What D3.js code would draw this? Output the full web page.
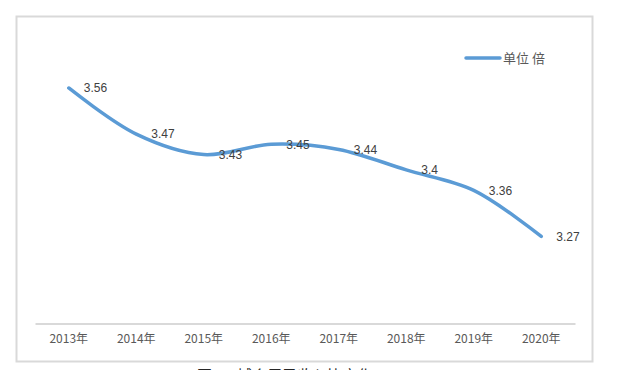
<!DOCTYPE html>
<html>
<head>
<meta charset="utf-8">
<script src="https://cdn.jsdelivr.net/npm/d3@7"></script>
<style>
  body { margin: 0; background: #fff; }
  text { font-family: "Noto Sans CJK SC", "Liberation Sans", sans-serif; }
</style>
</head>
<body>
<div class="chart"></div>
<script>
const years = ["2013年", "2014年", "2015年", "2016年", "2017年", "2018年", "2019年", "2020年"];
const ratio = [3.56, 3.47, 3.43, 3.45, 3.44, 3.4, 3.36, 3.27];
const seriesName = "单位 倍";

const width = 622;
const height = 370;
const svg = d3.select(".chart")
    .append("svg")
    .attr("width", width)
    .attr("height", height);

// chart frame
svg.append("rect")
    .attr("x", 16.5)
    .attr("y", 16.5)
    .attr("width", 576)
    .attr("height", 345)
    .attr("fill", "none")
    .attr("stroke", "#d9d9d9")
    .attr("stroke-width", 2);

const x = d3.scaleBand()
    .domain(years)
    .range([35, 575]);

const y = d3.scaleLinear()
    .domain([3.1, 3.6])
    .range([323.5, 67.5]);

const data = years.map((d, i) => ({year: d, value: ratio[i]}));

// category axis
const axis = svg.append("g")
    .attr("transform", "translate(0,323.5)")
    .call(d3.axisBottom(x).tickSize(0).tickPadding(11));
axis.select(".domain")
    .attr("stroke", "#d9d9d9")
    .attr("stroke-width", 2);
axis.selectAll("text")
    .attr("fill", "#595959")
    .style("font-size", "12px")
    .style("font-family", "'Noto Sans CJK SC', sans-serif");

const line = d3.line()
    .x(d => x(d.year) + x.bandwidth() / 2)
    .y(d => y(d.value))
    .curve(d3.curveCatmullRom.alpha(0.5));

svg.append("path")
    .datum(data)
    .attr("d", line)
    .attr("fill", "none")
    .attr("stroke", "#5b9bd5")
    .attr("stroke-width", 3.5)
    .attr("stroke-linecap", "round");

svg.selectAll(".lbl")
    .data(data)
    .join("text")
    .attr("class", "lbl")
    .attr("x", d => x(d.year) + x.bandwidth() / 2 + 15)
    .attr("y", d => y(d.value))
    .attr("dy", "0.35em")
    .attr("fill", "#404040")
    .style("font-size", "12px")
    .style("font-family", "'Liberation Sans', 'DejaVu Sans', sans-serif")
    .text(d => d.value);

// legend
const legend = svg.append("g").attr("transform", "translate(466,58)");
legend.append("line")
    .attr("x1", 0).attr("x2", 34)
    .attr("stroke", "#5b9bd5")
    .attr("stroke-width", 3.5)
    .attr("stroke-linecap", "round");
legend.append("text")
    .attr("x", 37)
    .attr("dy", "0.35em")
    .attr("fill", "#595959")
    .style("font-size", "13px")
    .text(seriesName);

// caption below the frame, cut off by the picture edge as in the source
svg.append("text")
    .attr("x", 197)
    .attr("y", 381)
    .attr("fill", "#262626")
    .style("font-size", "15px")
    .style("white-space", "pre")
    .text("图 1    城乡居民收入比变化");
</script>
</body>
</html>
